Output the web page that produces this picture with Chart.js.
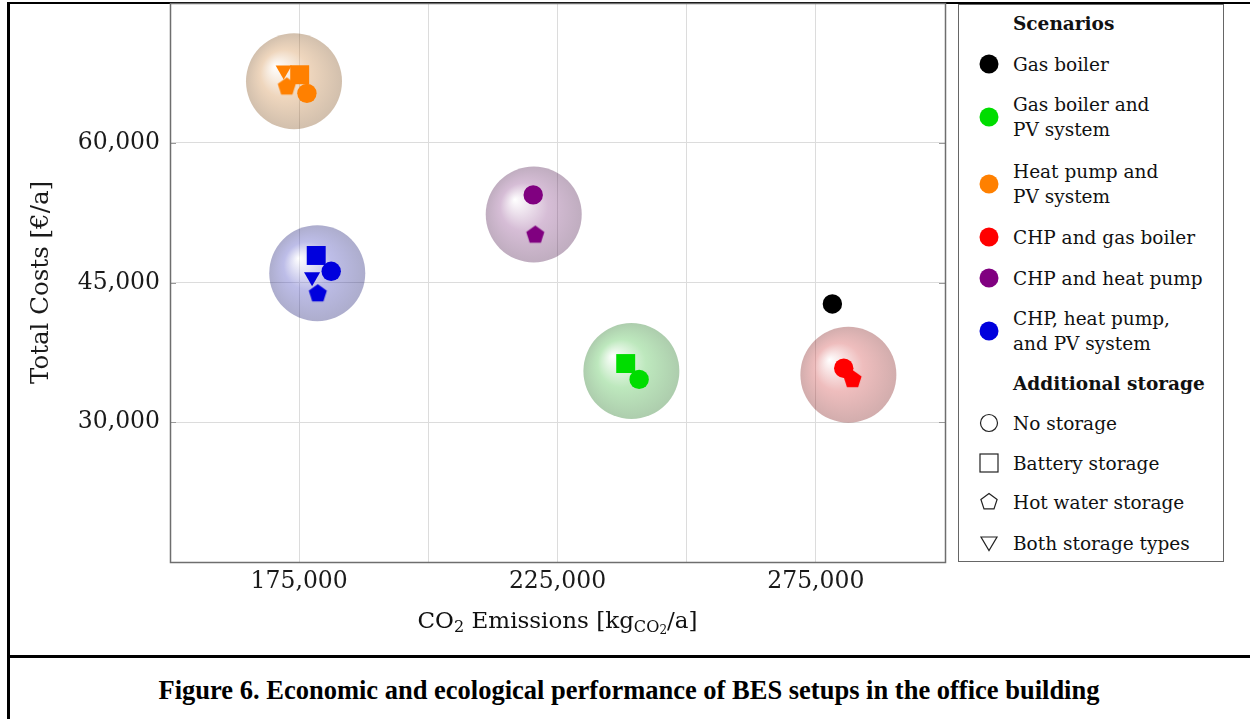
<!DOCTYPE html>
<html>
<head>
<meta charset="utf-8">
<script src="https://cdn.jsdelivr.net/npm/chart.js@4.4.1/dist/chart.umd.min.js"></script>
<style>
  body { margin:0; width:1250px; height:719px; background:#fff; position:relative; overflow:hidden; font-family:"DejaVu Serif", serif; color:#111; }
  .bar { position:absolute; background:#000; }
  #chartBox { position:absolute; left:0; top:0; width:950px; height:650px; }
  #xTitle { position:absolute; left:170px; width:775px; top:605px; text-align:center; font-size:23px; line-height:30px; }
  #xTitle sub { font-size:70%; vertical-align:-4px; line-height:0; }
  #xTitle sub sub { font-size:75%; vertical-align:-2px; }
  #legend { position:absolute; left:958px; top:4px; width:266px; height:558px; border:1px solid #666; box-sizing:border-box; }
  .item { position:absolute; left:54px; font-size:18.5px; line-height:25px; white-space:nowrap; }
  .item b { font-weight:bold; }
  .mark { position:absolute; left:19px; width:22px; height:22px; }
  #caption { position:absolute; left:8px; width:1242px; top:675px; text-align:center; font-family:"Liberation Serif", serif; font-weight:bold; font-size:26.5px; line-height:30px; color:#000; }
</style>
</head>
<body>
<div class="bar" style="left:7px; top:2px; width:3px; height:717px"></div>
<div class="bar" style="left:7px; top:2px; width:1243px; height:2px"></div>
<div class="bar" style="left:7px; top:655px; width:1243px; height:3px"></div>

<div id="chartBox"><canvas id="bubbleChart" width="950" height="650"></canvas></div>
<div id="xTitle">CO<sub>2</sub> Emissions [kg<sub>CO<sub>2</sub></sub>/a]</div>
<div id="legend"></div>
<div id="caption">Figure 6. Economic and ecological performance of BES setups in the office building</div>

<script>
const scenarioNames = [
  "Gas boiler",
  "Gas boiler and\nPV system",
  "Heat pump and\nPV system",
  "CHP and gas boiler",
  "CHP and heat pump",
  "CHP, heat pump,\nand PV system"
];
const scenarioColors = ["#000000", "#00dd00", "#ff8000", "#ff0000", "#800080", "#0000dd"];

const storageNames = ["No storage", "Battery storage", "Hot water storage", "Both storage types"];

// CO2 emissions [kg/a], one row per scenario, columns follow storageNames (null = not shown)
const emissions = [
  [278200, null,   null,   null],
  [240800, 238200, null,   null],
  [176500, 175100, 172600, 172000],
  [280400, null,   282100, null],
  [220300, null,   220700, null],
  [181200, 178300, 178600, 177500]
];

// total costs [€/a]
const costs = [
  [42700, null,  null,  null],
  [34600, 36300, null,  null],
  [65300, 67300, 66000, 67800],
  [35800, null,  34600, null],
  [54400, null,  50100, null],
  [46200, 47900, 43800, 45600]
];

// shaded spheres behind each scenario group
const sphereEmissions = [null, 239300, 174000, 281300, 220400, 178500];
const sphereCosts     = [null, 35500,  66600,  35100,  52300,  46000];

const xTickLabels = [175000, 225000, 275000];
const yTickLabels = [30000, 45000, 60000];

function hexRgb(h) {
  return [1, 3, 5].map(i => parseInt(h.substr(i, 2), 16));
}

function pentagon(color, R) {
  const s = Math.ceil(2 * R + 4);
  const c = document.createElement("canvas");
  c.width = s; c.height = s;
  const g = c.getContext("2d");
  g.beginPath();
  for (let i = 0; i < 5; i++) {
    const a = -Math.PI / 2 + i * 2 * Math.PI / 5;
    const px = s / 2 + R * Math.cos(a), py = s / 2 + R * Math.sin(a);
    if (i) g.lineTo(px, py); else g.moveTo(px, py);
  }
  g.closePath();
  g.fillStyle = color;
  g.fill();
  return c;
}

// marker shape per storage type
const markStyle = i => {
  return [
    { style: "circle", r: 9.7, rot: 0 },
    { style: "rect", r: 13.4, rot: 0 },
    { style: "pentagon", r: 9.5, rot: 0 },
    { style: "triangle", r: 9.3, rot: 180 }
  ][i];
};

const datasets = [];

// spheres get a higher order so they are drawn behind the markers
scenarioNames.forEach((name, s) => {
  if (sphereEmissions[s] === null) return;
  const rgb = hexRgb(scenarioColors[s]);
  datasets.push({
    label: name + " sphere",
    order: 2,
    data: [{ x: sphereEmissions[s], y: sphereCosts[s] }],
    pointRadius: 48,
    pointHoverRadius: 48,
    pointBorderWidth: 0,
    pointBorderColor: "transparent",
    pointBackgroundColor: ctx => {
      const a = 0.32;
      const mid = rgb.map(v => Math.round(0.6 * v + 0.4 * 128));
      const edge = rgb.map(v => Math.round(0.45 * v));
      const fallback = "rgba(" + mid.join(",") + "," + a + ")";
      if (ctx.type !== "data" || !ctx.raw) return fallback;
      const chart = ctx.chart;
      const cx = chart.scales.x ? chart.scales.x.getPixelForValue(ctx.raw.x) : NaN;
      const cy = chart.scales.y ? chart.scales.y.getPixelForValue(ctx.raw.y) : NaN;
      if (!isFinite(cx) || !isFinite(cy)) return fallback;
      const g = chart.ctx.createRadialGradient(cx - 19, cy - 15, 0, cx, cy, 48);
      g.addColorStop(0, "rgba(255,255,255," + a + ")");
      g.addColorStop(0.5, "rgba(" + mid.join(",") + "," + a + ")");
      g.addColorStop(1, "rgba(" + edge.join(",") + "," + a + ")");
      return g;
    }
  });
});

scenarioNames.forEach((name, s) => {
  const pts = [], styles = [], radii = [], rots = [];
  const pent = pentagon(scenarioColors[s], 9.5);
  storageNames.forEach((st, k) => {
    if (emissions[s][k] === null) return;
    const m = markStyle(k);
    pts.push({ x: emissions[s][k], y: costs[s][k] });
    styles.push(m.style === "pentagon" ? pent : m.style);
    radii.push(m.r);
    rots.push(m.rot);
  });
  datasets.push({
    label: name,
    order: 1,
    data: pts,
    pointStyle: styles,
    pointRadius: radii,
    pointHoverRadius: radii,
    pointRotation: rots,
    pointBackgroundColor: scenarioColors[s],
    pointBorderColor: scenarioColors[s],
    pointBorderWidth: 0
  });
});

const framePlugin = {
  id: "frame",
  afterDraw(chart) {
    const { ctx, chartArea: a, scales } = chart;
    ctx.save();
    ctx.strokeStyle = "#999";
    ctx.lineWidth = 1;
    yTickLabels.forEach(v => {
      const y = Math.round(scales.y.getPixelForValue(v)) + 0.5;
      ctx.beginPath();
      ctx.moveTo(a.left, y); ctx.lineTo(a.left + 6, y);
      ctx.moveTo(a.right, y); ctx.lineTo(a.right - 6, y);
      ctx.stroke();
    });
    ctx.strokeStyle = "#6e6e6e";
    ctx.lineWidth = 1.5;
    ctx.strokeRect(a.left + 0.5, a.top + 0.5, a.right - a.left, a.bottom - a.top);
    ctx.restore();
  }
};

Chart.defaults.font.family = "DejaVu Serif";
Chart.defaults.color = "#1a1a1a";

new Chart(document.getElementById("bubbleChart"), {
  type: "scatter",
  data: { datasets },
  options: {
    responsive: false,
    animation: false,
    events: [],
    layout: { autoPadding: false, padding: { top: 3, right: 5, left: 0, bottom: 0 } },
    plugins: { legend: { display: false }, tooltip: { enabled: false } },
    scales: {
      x: {
        min: 150000, max: 300000,
        afterFit: s => { s.height = 88; s.paddingLeft = 0; s.paddingRight = 0; },
        border: { display: false },
        grid: { color: "#dcdcdc", lineWidth: 1, drawTicks: false },
        ticks: {
          stepSize: 25000, padding: 6, maxRotation: 0, autoSkip: false,
          font: { size: 23.5 },
          callback: v => xTickLabels.includes(v) ? v.toLocaleString("en-US") : ""
        }
      },
      y: {
        min: 15000, max: 75000,
        afterFit: s => { s.width = 170; s.paddingTop = 0; s.paddingBottom = 0; },
        border: { display: false },
        grid: { color: "#dcdcdc", lineWidth: 1, drawTicks: false },
        title: { display: true, text: "Total Costs [€/a]", font: { size: 24.5 }, padding: { top: 27 } },
        ticks: {
          stepSize: 15000, padding: 10, autoSkip: false,
          font: { size: 23.5 },
          callback: v => yTickLabels.includes(v) ? v.toLocaleString("en-US") : ""
        }
      }
    }
  },
  plugins: [framePlugin]
});

// legend built from the same arrays
const legend = document.getElementById("legend");
const rowCenters = [64, 117, 184, 237, 278, 331];
const storageCenters = [423, 463, 502, 543];

function addText(html, centerY, lines) {
  const d = document.createElement("div");
  d.className = "item";
  d.innerHTML = html;
  d.style.top = (centerY - 5 - lines * 12.5) + "px";
  legend.appendChild(d);
}

function addMark(svg, centerY) {
  const d = document.createElement("div");
  d.className = "mark";
  d.style.top = (centerY - 5 - 11) + "px";
  d.innerHTML = '<svg width="22" height="22" viewBox="0 0 22 22">' + svg + "</svg>";
  legend.appendChild(d);
}

addText("<b>Scenarios</b>", 23, 1);
scenarioNames.forEach((name, s) => {
  const lines = name.split("\n");
  addText(lines.join("<br>"), rowCenters[s], lines.length);
  addMark('<circle cx="11" cy="11" r="9.5" fill="' + scenarioColors[s] + '"/>', rowCenters[s]);
});

addText("<b>Additional storage</b>", 383, 1);
const outline = [
  '<circle cx="11" cy="11" r="8.5" fill="none" stroke="#222" stroke-width="1.2"/>',
  '<rect x="2" y="2" width="18" height="18" fill="none" stroke="#222" stroke-width="1.2"/>',
  '<polygon points="11,2.5 19.1,8.4 16,17.9 6,17.9 2.9,8.4" fill="none" stroke="#222" stroke-width="1.2"/>',
  '<polygon points="3,5 19,5 11,18.5" fill="none" stroke="#222" stroke-width="1.2"/>'
];
storageNames.forEach((name, k) => {
  addText(name, storageCenters[k], 1);
  addMark(outline[k], storageCenters[k]);
});
</script>
</body>
</html>
